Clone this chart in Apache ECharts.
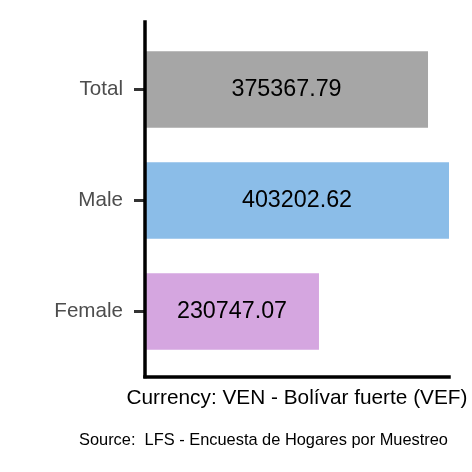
<!DOCTYPE html>
<html>
<head>
<meta charset="utf-8">
<script src="https://cdn.jsdelivr.net/npm/echarts@6/dist/echarts.min.js"></script>
<style>html,body{margin:0;padding:0;background:#fff;}#chart{width:472px;height:472px;}</style>
</head>
<body>
<div id="chart"></div>
<script>
const categories = ['Female', 'Male', 'Total'];
const values = [230747.07, 403202.62, 375367.79];
const barColors = ['#D5A6E0', '#8BBDE8', '#A6A6A6'];
const axisTitle = 'Currency: VEN - Bolívar fuerte (VEF)';
const sourceText = 'Source:  LFS - Encuesta de Hogares por Muestreo';

const FONT = '"Liberation Sans", Arial, Helvetica, sans-serif';
const chart = echarts.init(document.getElementById('chart'), null, {renderer: 'canvas'});
chart.setOption({
  animation: false,
  backgroundColor: '#ffffff',
  textStyle: {fontFamily: FONT},
  title: {
    text: sourceText,
    left: 79, top: 432, padding: 0,
    textStyle: {fontFamily: FONT, fontSize: 16.4, fontWeight: 'normal', color: '#000'}
  },
  grid: [
    {left: 145, right: 23, top: 34, bottom: 105},
    {left: 145, right: 23, top: 22, bottom: 95.5}
  ],
  xAxis: [
    {gridIndex: 0, type: 'value', min: 0, max: 'dataMax', show: false},
    {gridIndex: 1, type: 'value', min: 0, max: 1, z: 5,
     name: axisTitle, nameLocation: 'middle', nameGap: 11,
     nameTextStyle: {fontFamily: FONT, fontSize: 20.8, color: '#000'},
     axisLine: {show: true, lineStyle: {color: '#000', width: 3.5, cap: 'square'}},
     axisTick: {show: false}, axisLabel: {show: false}, splitLine: {show: false}}
  ],
  yAxis: [
    {gridIndex: 0, type: 'category', data: categories,
     axisLine: {show: false},
     axisTick: {show: true, alignWithLabel: true, length: 11, lineStyle: {color: '#333', width: 3}},
     axisLabel: {margin: 22, fontFamily: FONT, fontSize: 20.6, color: '#4D4D4D'},
     splitLine: {show: false}},
    {gridIndex: 1, type: 'value', min: 0, max: 1, z: 5,
     axisLine: {show: true, lineStyle: {color: '#000', width: 3.5, cap: 'square'}},
     axisTick: {show: false}, axisLabel: {show: false}, splitLine: {show: false}}
  ],
  series: [{
    type: 'bar',
    xAxisIndex: 0, yAxisIndex: 0,
    barCategoryGap: '31%',
    data: values.map((v, i) => ({value: v, itemStyle: {color: barColors[i]}})),
    label: {
      show: true, position: 'inside',
      formatter: p => p.value.toFixed(2),
      fontFamily: FONT, fontSize: 23.3, color: '#000'
    },
    z: 1
  }]
});
</script>
</body>
</html>
